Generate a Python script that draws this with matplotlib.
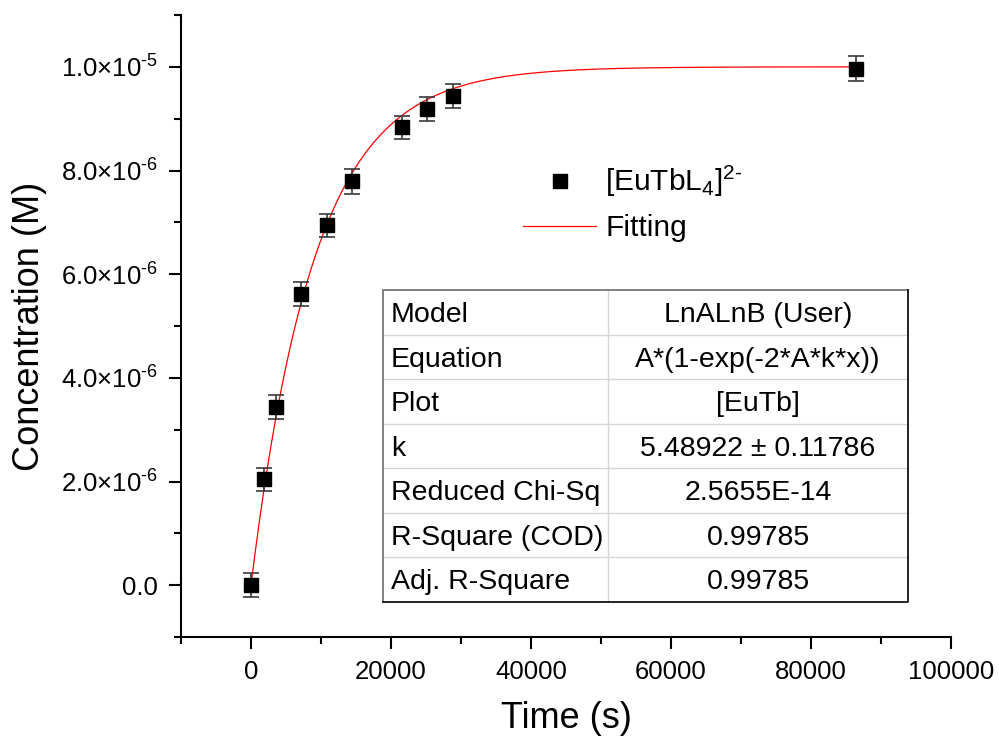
import numpy as np
import matplotlib
matplotlib.use("Agg")
import matplotlib.pyplot as plt
from matplotlib.ticker import MultipleLocator, FuncFormatter
from matplotlib.lines import Line2D

plt.rcParams['font.family'] = ['Liberation Sans', 'DejaVu Sans']
plt.rcParams['mathtext.fontset'] = 'custom'
plt.rcParams['mathtext.rm'] = 'Liberation Sans'
plt.rcParams['mathtext.it'] = 'Liberation Sans:italic'
plt.rcParams['mathtext.bf'] = 'Liberation Sans:bold'

# ---- data ----
time_s = [0, 1800, 3600, 7200, 10800, 14400, 21600, 25200, 28800, 86400]
conc_M = [0.0, 2.04e-6, 3.44e-6, 5.61e-6, 6.94e-6, 7.79e-6, 8.83e-6, 9.19e-6, 9.44e-6, 9.96e-6]
conc_err = [0.23e-6, 0.23e-6, 0.23e-6, 0.23e-6, 0.23e-6, 0.235e-6, 0.23e-6, 0.23e-6, 0.23e-6, 0.24e-6]

# fit parameters (model A*(1-exp(-2*A*k*x)))
fit_A = 1.0e-5
fit_k = 5.48922

table_keys = ["Model", "Equation", "Plot", "k", "Reduced Chi-Sq", "R-Square (COD)", "Adj. R-Square"]
table_vals = ["LnALnB (User)", "A*(1-exp(-2*A*k*x))", "[EuTb]", "5.48922 \u00b1 0.11786",
              "2.5655E-14", "0.99785", "0.99785"]

series_label = r"[EuTbL$_4$]$^{2\text{-}}$"
fit_label = "Fitting"

W, H = 999, 744
fig = plt.figure(figsize=(W / 100, H / 100), dpi=100)

def fx(x):
    return x / W

def fy(y):
    return 1 - y / H

ax = fig.add_axes([fx(181), fy(637), (951 - 181) / W, (637 - 15) / H])

x_fit = np.linspace(0, max(time_s), 600)
y_fit = fit_A * (1 - np.exp(-2 * fit_A * fit_k * x_fit))
ax.plot(x_fit, y_fit, color='red', lw=0.9, zorder=2)

ax.errorbar(time_s, conc_M, yerr=conc_err, fmt='none', ecolor='#3a3a3a',
            elinewidth=1.2, capsize=6, capthick=1.2, zorder=3)
ax.plot(time_s, conc_M, 's', color='black', markersize=9.6, zorder=4)

ax.set_xlim(-10000, 100000)
ax.set_ylim(-1e-6, 1.1e-5)

for s in ['top', 'right']:
    ax.spines[s].set_visible(False)
for s in ['left', 'bottom']:
    ax.spines[s].set_linewidth(1.5)

ax.xaxis.set_major_locator(MultipleLocator(20000))
ax.xaxis.set_minor_locator(MultipleLocator(10000))
ax.yaxis.set_major_locator(MultipleLocator(2e-6))
ax.yaxis.set_minor_locator(MultipleLocator(1e-6))

def yfmt(v, pos):
    if abs(v) < 1e-12:
        return "0.0"
    e = int(np.floor(np.log10(abs(v)) + 1e-9))
    m = v / 10 ** e
    return "%.1f\u00d710$^{\\text{-}%d}$" % (m, -e)

ax.yaxis.set_major_formatter(FuncFormatter(yfmt))
ax.xaxis.set_major_formatter(FuncFormatter(lambda v, p: "%d" % round(v)))

ax.tick_params(axis='both', which='major', length=8.5, width=1.5, direction='out',
               labelsize=18.5, pad=8)
ax.tick_params(axis='both', which='minor', length=4.8, width=1.5, direction='out')

fig.text(fx(566), fy(719), "Time (s)", ha='center', va='center', fontsize=26)
fig.text(fx(30), fy(326), "Concentration (M)", ha='center', va='center',
         rotation=90, fontsize=26)

# legend
handles = [Line2D([], [], marker='s', color='black', ls='none', markersize=9.6),
           Line2D([], [], color='red', lw=0.9)]
ax.legend(handles, [series_label, fit_label], loc='upper left',
          bbox_to_anchor=(fx(523), fy(164)), bbox_transform=fig.transFigure,
          frameon=False, fontsize=21.5, handlelength=2.45, handletextpad=0.3,
          labelspacing=0.5, borderpad=0, borderaxespad=0)

# parameter table
tl, tr, tt, tb, tc = 383, 908, 290, 601.5, 608
nrows = len(table_keys)
rh = (tb - tt) / nrows
for i in range(1, nrows):
    yy = tt + i * rh
    fig.add_artist(Line2D([fx(tl), fx(tr)], [fy(yy), fy(yy)], color='#d6d6d6', lw=1.0))
fig.add_artist(Line2D([fx(tc), fx(tc)], [fy(tt), fy(tb)], color='#d6d6d6', lw=1.0))
fig.add_artist(Line2D([fx(tl), fx(tl), fx(tr)], [fy(tb), fy(tt), fy(tt)], color='#808080', lw=1.4))
fig.add_artist(Line2D([fx(tl), fx(tr), fx(tr)], [fy(tb), fy(tb), fy(tt)], color='#222222', lw=1.4))
for i, (k, v) in enumerate(zip(table_keys, table_vals)):
    base = tt + (i + 0.5) * rh + 10
    fig.text(fx(391), fy(base), k, ha='left', va='baseline', fontsize=20.5)
    fig.text(fx((tc + tr) / 2), fy(base), v, ha='center', va='baseline', fontsize=20.5)

fig.savefig("out.png", dpi=100)
